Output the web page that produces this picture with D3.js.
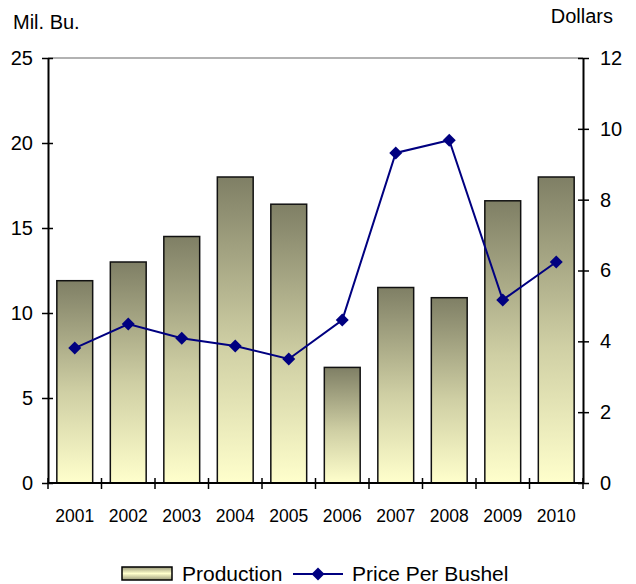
<!DOCTYPE html>
<html>
<head>
<meta charset="utf-8">
<script src="https://cdn.jsdelivr.net/npm/d3@7"></script>
<style>
  body { margin: 0; background: #fff; }
  text { font-family: "Liberation Sans", Arial, sans-serif; fill: #000; }
</style>
</head>
<body>
<svg id="chart" width="636" height="584"></svg>
<script>
// data
const years = ['2001', '2002', '2003', '2004', '2005', '2006', '2007', '2008', '2009', '2010'];
const production = [11.9, 13.0, 14.5, 18.0, 16.4, 6.8, 11.5, 10.9, 16.6, 18.0];   // Mil. Bu.
const price = [3.81, 4.49, 4.09, 3.87, 3.50, 4.60, 9.32, 9.68, 5.17, 6.24];        // Dollars
const leftTicks = [0, 5, 10, 15, 20, 25];
const rightTicks = [0, 2, 4, 6, 8, 10, 12];

const svg = d3.select('#chart');
const plotL = 48, plotR = 583, plotT = 58, plotB = 483;

const x = d3.scaleBand().domain(years).range([plotL, plotR]).paddingInner(0.33).paddingOuter(0.165);
const xTick = d3.scaleLinear().domain([0, years.length]).range([plotL, plotR]);
const yL = d3.scaleLinear().domain([0, 25]).range([plotB, plotT]);
const yR = d3.scaleLinear().domain([0, 12]).range([plotB, plotT]);

// gradient for each bar: dark olive at top, pale yellow at bottom
const defs = svg.append('defs');
const grad = defs.append('linearGradient').attr('id', 'barGrad')
    .attr('x1', 0).attr('y1', 0).attr('x2', 0).attr('y2', 1);
grad.append('stop').attr('offset', '0%').attr('stop-color', '#7f7f65');
grad.append('stop').attr('offset', '55%').attr('stop-color', '#cfcfa4');
grad.append('stop').attr('offset', '100%').attr('stop-color', '#ffffcc');

const lg = defs.append('linearGradient').attr('id', 'legGrad')
    .attr('x1', 0).attr('y1', 0).attr('x2', 0).attr('y2', 1);
lg.append('stop').attr('offset', '0%').attr('stop-color', '#9a9a7a');
lg.append('stop').attr('offset', '50%').attr('stop-color', '#ffffcc');
lg.append('stop').attr('offset', '100%').attr('stop-color', '#9a9a7a');

// top border line
svg.append('line')
    .attr('x1', plotL).attr('x2', plotR).attr('y1', plotT).attr('y2', plotT)
    .attr('stroke', '#999').attr('stroke-width', 1.5);

// bars
svg.selectAll('.bar')
    .data(production)
    .join('rect')
    .attr('class', 'bar')
    .attr('x', (d, i) => x(years[i]))
    .attr('width', x.bandwidth())
    .attr('y', d => yL(d))
    .attr('height', d => plotB - yL(d))
    .attr('fill', 'url(#barGrad)')
    .attr('stroke', '#111').attr('stroke-width', 1.5);

// axes
const yAxisL = d3.axisLeft(yL).tickValues(leftTicks).tickSize(0).tickPadding(15);
const gL = svg.append('g').attr('transform', `translate(${plotL},0)`).call(yAxisL);
const yAxisR = d3.axisRight(yR).tickValues(rightTicks).tickSize(0).tickPadding(17);
const gR = svg.append('g').attr('transform', `translate(${plotR},0)`).call(yAxisR);
[gL, gR].forEach(g => {
    g.select('.domain').attr('stroke', '#000').attr('stroke-width', 2);
    g.selectAll('text').attr('font-size', 20).attr('font-family', '"Liberation Sans", Arial, sans-serif');
});
// crossing ticks
gL.selectAll('.tick').append('line').attr('x1', -6).attr('x2', 5).attr('stroke', '#000').attr('stroke-width', 1.5);
gR.selectAll('.tick').append('line').attr('x1', -5).attr('x2', 6).attr('stroke', '#000').attr('stroke-width', 1.5);

// x axis
svg.append('line')
    .attr('x1', plotL).attr('x2', plotR).attr('y1', plotB).attr('y2', plotB)
    .attr('stroke', '#000').attr('stroke-width', 2);
svg.selectAll('.xtick')
    .data(d3.range(years.length + 1))
    .join('line')
    .attr('class', 'xtick')
    .attr('x1', d => xTick(d)).attr('x2', d => xTick(d))
    .attr('y1', plotB - 5).attr('y2', plotB + 6)
    .attr('stroke', '#000').attr('stroke-width', 1.5);
svg.selectAll('.xlab')
    .data(years)
    .join('text')
    .attr('class', 'xlab')
    .attr('x', d => x(d) + x.bandwidth() / 2)
    .attr('y', 522)
    .attr('text-anchor', 'middle')
    .attr('font-size', 17.5)
    .text(d => d);

// price line
const line = d3.line()
    .x((d, i) => x(years[i]) + x.bandwidth() / 2)
    .y(d => yR(d));
svg.append('path')
    .datum(price)
    .attr('d', line)
    .attr('fill', 'none')
    .attr('stroke', '#000080')
    .attr('stroke-width', 2);
svg.selectAll('.pt')
    .data(price)
    .join('path')
    .attr('class', 'pt')
    .attr('transform', (d, i) => `translate(${x(years[i]) + x.bandwidth() / 2},${yR(d)}) rotate(45)`)
    .attr('d', d3.symbol().type(d3.symbolSquare).size(85))
    .attr('fill', '#000080');

// axis titles
svg.append('text').attr('x', 13).attr('y', 29).attr('font-size', 20).text('Mil. Bu.');
svg.append('text').attr('x', 613).attr('y', 23).attr('text-anchor', 'end').attr('font-size', 20).text('Dollars');

// legend
svg.append('rect').attr('x', 122).attr('y', 567).attr('width', 50).attr('height', 13)
    .attr('fill', 'url(#legGrad)').attr('stroke', '#000').attr('stroke-width', 1.5);
svg.append('text').attr('x', 182).attr('y', 581).attr('font-size', 21).text('Production');
svg.append('line').attr('x1', 293).attr('x2', 343).attr('y1', 574).attr('y2', 574)
    .attr('stroke', '#000080').attr('stroke-width', 2);
svg.append('path')
    .attr('transform', 'translate(318,574) rotate(45)')
    .attr('d', d3.symbol().type(d3.symbolSquare).size(85))
    .attr('fill', '#000080');
svg.append('text').attr('x', 352).attr('y', 581).attr('font-size', 21).text('Price Per Bushel');
</script>
</body>
</html>
